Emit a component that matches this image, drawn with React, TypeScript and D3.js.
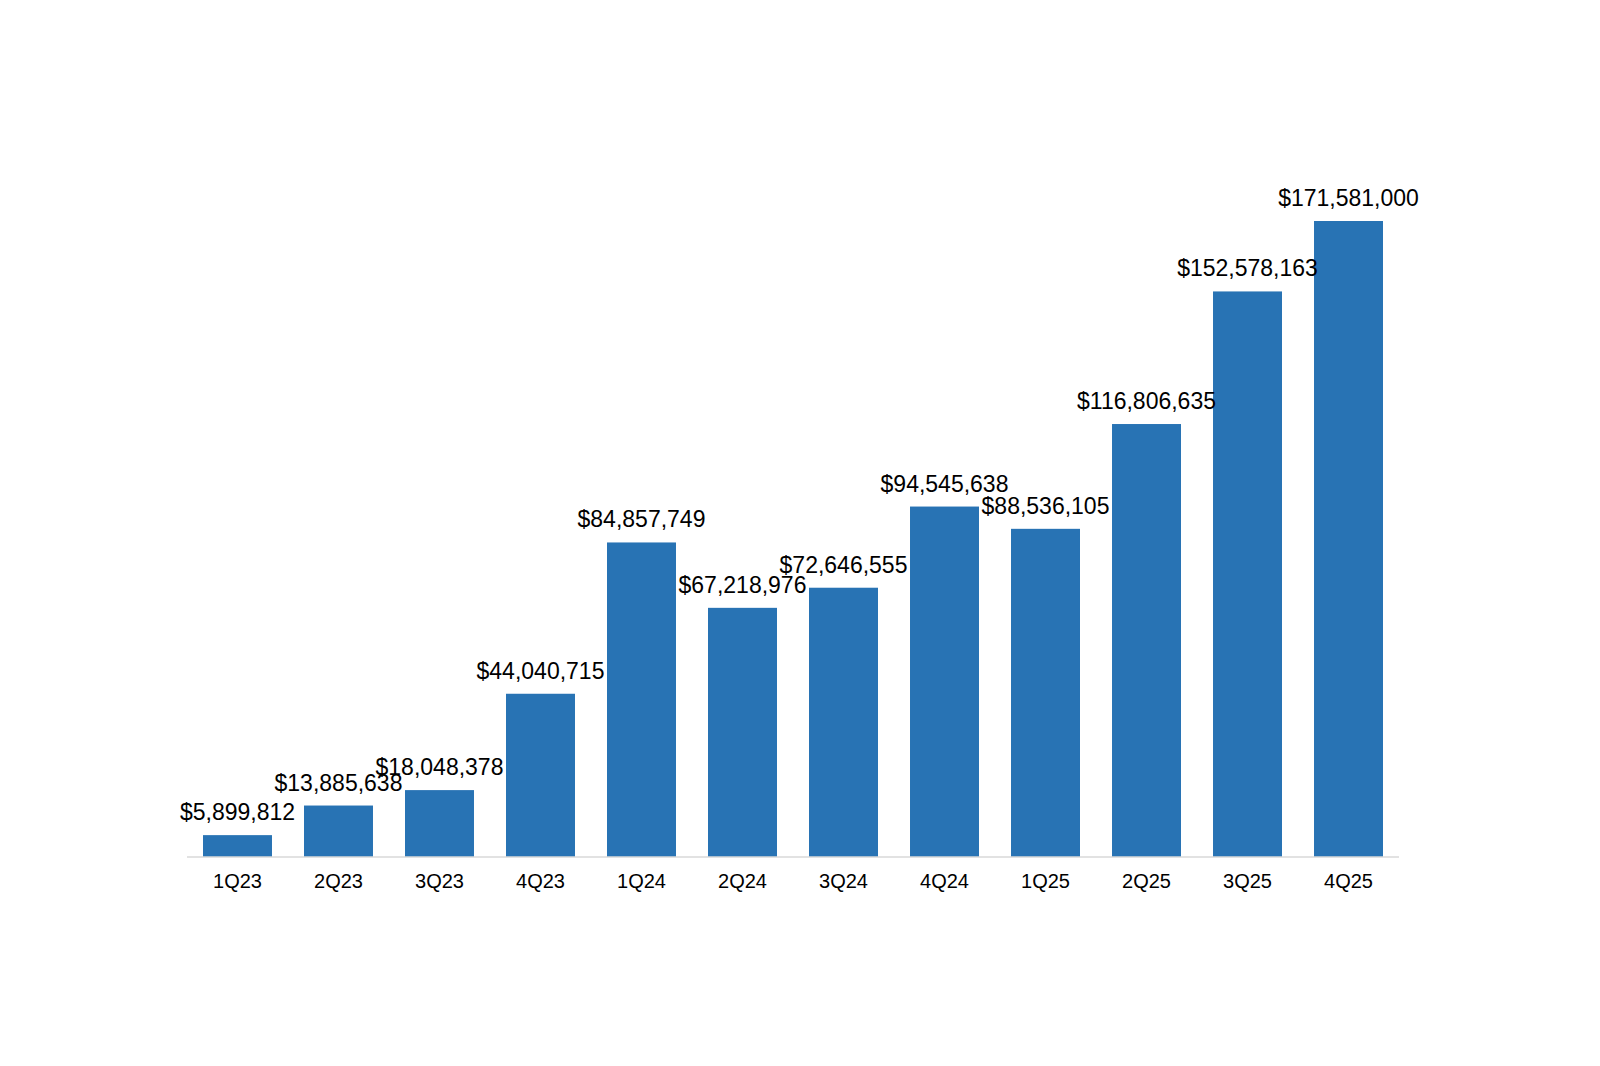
import * as d3 from "d3";

// Quarterly values
const quarters = ["1Q23", "2Q23", "3Q23", "4Q23", "1Q24", "2Q24", "3Q24", "4Q24", "1Q25", "2Q25", "3Q25", "4Q25"];
const values = [5899812, 13885638, 18048378, 44040715, 84857749, 67218976, 72646555, 94545638, 88536105, 116806635, 152578163, 171581000];

const width = 1600;
const height = 1066;
const baseY = 857;
const topY = 221;
const left = 187;
const right = 1399;

const fmt = d3.format("$,");

export default function App() {
    const x = d3.scaleBand<string>()
        .domain(quarters)
        .range([left, right])
        .paddingInner(0.317)
        .paddingOuter(0.1584);

    const y = d3.scaleLinear()
        .domain([0, d3.max(values) as number])
        .range([baseY, topY]);

    const font = "'Liberation Sans', Arial, sans-serif";
    const cx = (q: string) => (x(q) as number) + x.bandwidth() / 2;

    return (
        <svg width={width} height={height} style={{position: "absolute", left: 0, top: 0}}
             fontFamily={font}>
            <rect width={width} height={height} fill="#fff" />
            {/* bars first so the value labels sit on top of neighbouring bars */}
            {quarters.map((q, i) => (
                <rect key={q} x={x(q)} y={y(values[i])} width={x.bandwidth()}
                      height={baseY - y(values[i])} fill="#2873b4" />
            ))}
            <line x1={left} x2={right} y1={baseY} y2={baseY} stroke="#d9d9d9" strokeWidth={1.5} />
            {quarters.map((q, i) => (
                <text key={"v" + q} x={cx(q)} y={y(values[i]) - 15}
                      textAnchor="middle" fontSize={23} fill="#000">
                    {fmt(values[i])}
                </text>
            ))}
            {quarters.map(q => (
                <text key={"l" + q} x={cx(q)} y={888}
                      textAnchor="middle" fontSize={20} fill="#000">
                    {q}
                </text>
            ))}
        </svg>
    );
}
